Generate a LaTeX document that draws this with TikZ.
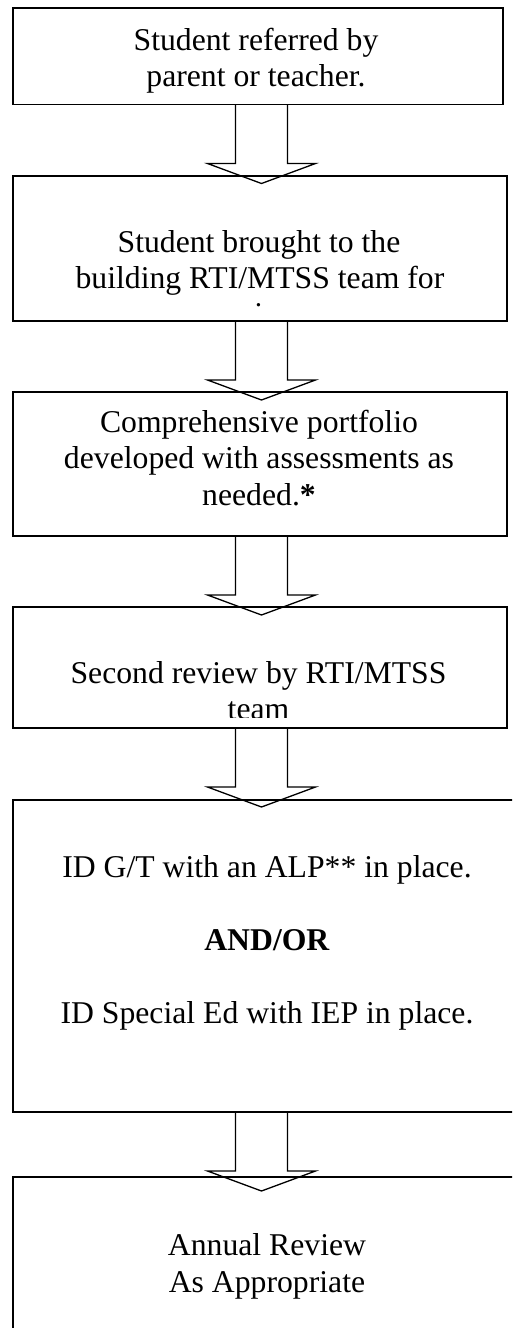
\documentclass[tikz,border=0pt]{standalone}
\usepackage{fontspec}
\setmainfont{Liberation Serif}
\usetikzlibrary{calc}
\newcommand\blockarrow[1]{%
  \draw[barrow] ($(#1.south -| ax)+(-26,0)$) -- ++(0,59) -- ++(-28,0)
    -- ++(54,20) -- ++(54,-20) -- ++(-28,0) -- ++(0,-59);}
\begin{document}
\begin{tikzpicture}[x=1pt,y=-1pt,
  box/.style={draw, line width=1.3pt, rectangle, inner sep=0pt, outer sep=0pt},
  txt/.style={anchor=base, inner sep=0pt, font=\fontsize{31.7}{36.5}\selectfont},
  barrow/.style={draw, line width=1.3pt, line join=miter}]
\useasboundingbox (0,0) rectangle (512,1328);
\clip (0,0) rectangle (512,1328);
\coordinate (ax) at (261.5,0);
% boxes
\node[box, minimum width=490pt, minimum height=96.5pt] (b1) at (258,56.25) {};
\node[box, minimum width=494pt, minimum height=145pt] (b2) at (260,248.5) {};
\node[box, minimum width=494pt, minimum height=144pt] (b3) at (260,464) {};
\node[box, minimum width=494pt, minimum height=121pt] (b4) at (260,667.5) {};
\node[box, minimum width=508pt, minimum height=312pt] (b5) at (267,956) {};
\node[box, minimum width=508pt, minimum height=163pt] (b6) at (267,1258.5) {};
% texts
\node[txt] (t1a) at (256,50) {Student referred by};
\node[txt] (t1b) at (256,86) {parent or teacher.};
\node[txt] (t2a) at (259,252) {Student brought to the};
\node[txt] (t2b) at (260,288) {building RTI/MTSS team for};
\begin{scope}
  \clip (13,176) rectangle (507,307);
  \node[txt] (t2c) at (260,324) {review.};
\end{scope}
\node[txt] (t3a) at (259,432) {Comprehensive portfolio};
\node[txt] (t3b) at (259,468) {developed with assessments as};
\node[txt] (t3c) at (259,505) {needed.\textbf{*}};
\node[txt] (t4a) at (258.5,683) {Second review by RTI/MTSS};
\begin{scope}
  \clip (13,607) rectangle (507,717);
  \node[txt] (t4b) at (258.5,719) {team};
\end{scope}
\node[txt] (t5a) at (267,877) {ID G/T with an ALP** in place.};
\node[txt] (t5b) at (267,950) {\textbf{AND/OR}};
\node[txt] (t5c) at (267,1023) {ID Special Ed with IEP in place.};
\node[txt] (t6a) at (267,1255) {Annual Review};
\node[txt] (t6b) at (267,1292) {As Appropriate};
% arrows
\blockarrow{b1}
\blockarrow{b2}
\blockarrow{b3}
\blockarrow{b4}
\blockarrow{b5}
\end{tikzpicture}
\end{document}
